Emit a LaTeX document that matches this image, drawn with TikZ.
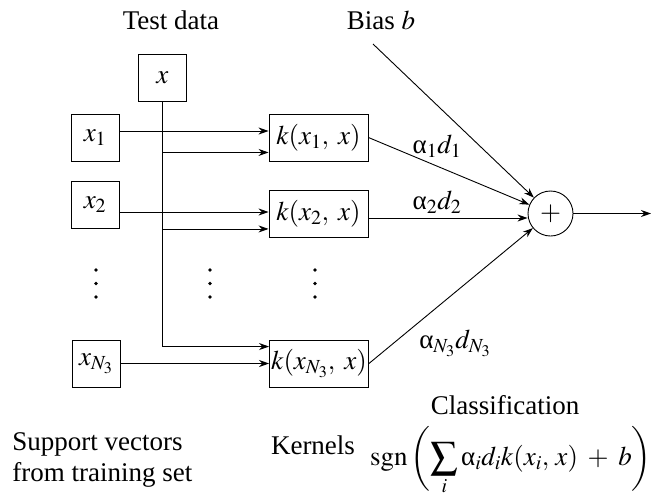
\documentclass[tikz,border=0pt]{standalone}
\usepackage{mathptmx}
\usepackage{fontspec}
\setmainfont{Liberation Serif}
\usetikzlibrary{arrows.meta}

\newcommand{\ualpha}{\mbox{α}}

\begin{document}
\begin{tikzpicture}[x=1pt, y=-1pt, >={Stealth[length=10pt, width=7pt]}, line width=0.9pt, font=\fontsize{27}{31}\selectfont]
    % Styles
    \tikzstyle{vec} = [draw, rectangle, minimum width=48pt, minimum height=47pt, inner sep=0pt]
    \tikzstyle{kern} = [draw, rectangle, minimum width=99pt, minimum height=47pt, inner sep=0pt]
    \tikzstyle{sum} = [draw, circle, minimum size=45pt, inner sep=0pt]

    \useasboundingbox (0,0) rectangle (651,496);

    % Nodes
    \node [vec] (xtest) at (162.5,77.5) {$x$};
    \node [vec] (x1) at (95,137.5) {$x_1$};
    \node [vec] (x2) at (95,205) {$x_2$};
    \node [vec] (xn) at (96,363.5) {$x_{N_3}$};
    \node [kern] (k1) at (318.5,137.5) {$k(x_1,\; x)$};
    \node [kern] (k2) at (318.5,214) {$k(x_2,\; x)$};
    \node [kern] (kn) at (319,363.5) {$k(x_{N_3},\; x)$};
    \node [sum] (sum) at (550.5,213.5) {$+$};
    \coordinate (bias) at (373,44);
    \coordinate (out) at (651,213.5);

    % Dots
    \fill (96,270) circle (1.9pt) (96,283.5) circle (1.9pt) (96,297) circle (1.9pt);
    \fill (210,270) circle (1.9pt) (210,283.5) circle (1.9pt) (210,297) circle (1.9pt);
    \fill (315,270) circle (1.9pt) (315,283.5) circle (1.9pt) (315,297) circle (1.9pt);

    % Labels
    \node (ltest) at (171,20) {Test data};
    \node (lbias) at (381,20) {Bias $b$};
    \node (la1) at (437,146) {$\ualpha_1 d_1$};
    \node (la2) at (437,202) {$\ualpha_2 d_2$};
    \node (lan) at (455,343) {$\ualpha_{N_3} d_{N_3}$};
    \node [anchor=west, align=left, inner sep=0pt] (lsv) at (12,460) {Support vectors\\from training set};
    \node (lkern) at (313,445) {Kernels};
    \node (lclass) at (505,405) {Classification};
    \node [inner sep=0pt] (lsgn) at (511,461) {$\displaystyle \mathrm{sgn}\,\biggl(\sum_i \ualpha_i d_i k(x_i,\, x) \;+\; b\biggr)$};

    % Connections
    \draw [->] ([yshift=6.5pt]x1.east) -- ([yshift=6.5pt]x1.east -| k1.west);
    \draw [->] ([yshift=-7pt]x2.east) -- ([yshift=-7pt]x2.east -| k2.west);
    \draw [->] (xn.east) -- (xn.east -| kn.west);
    \draw [->] (xtest.south) |- ([yshift=-7pt]kn.north west);
    \draw [->] ([yshift=9pt]k1.south west -| xtest.south) -- ([yshift=9pt]k1.south west);
    \draw [->] ([yshift=9pt]k2.south west -| xtest.south) -- ([yshift=9pt]k2.south west);
    \draw [->] (k1.east) -- (sum);
    \draw [->] ([yshift=-4pt]k2.east) -- ([yshift=-4pt]k2.east -| sum.west);
    \draw [->] (kn.east) -- (sum);
    \draw [->] (bias) -- (sum);
    \draw [->] (sum) -- (out);
\end{tikzpicture}
\end{document}
